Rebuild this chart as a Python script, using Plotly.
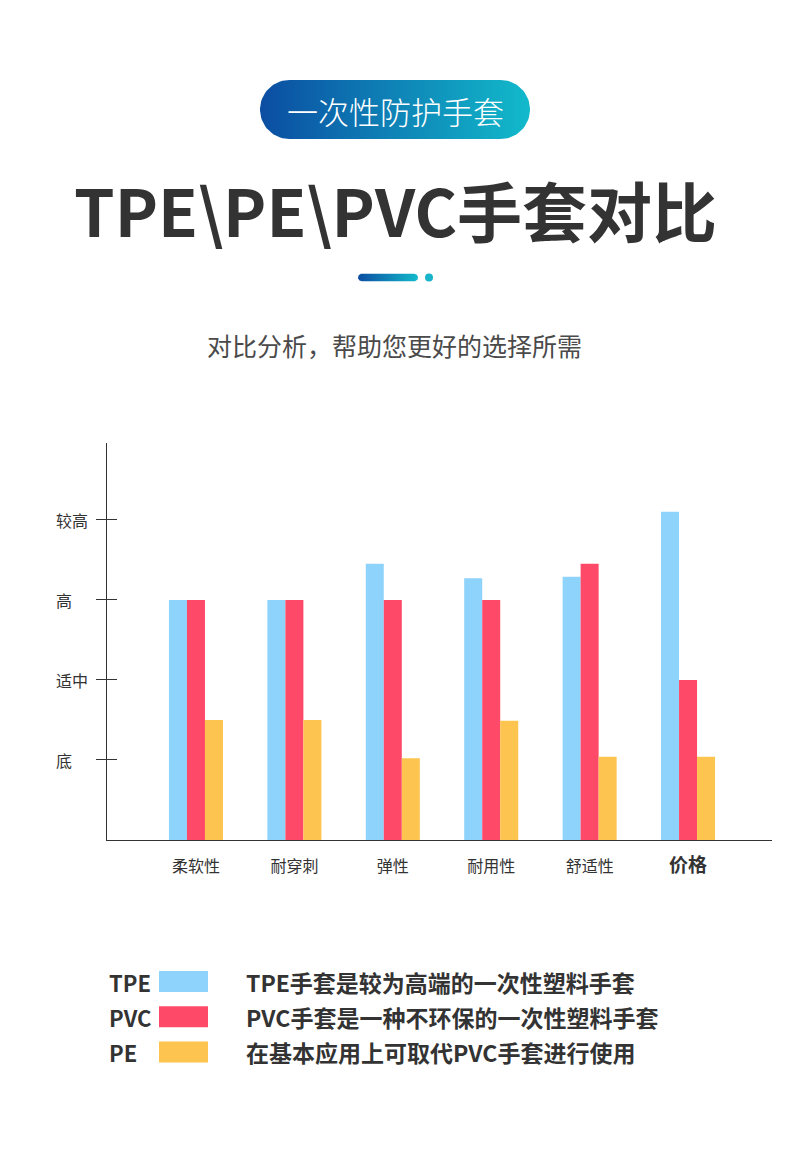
import numpy as np
import plotly.graph_objects as go

# 数据
categories = ["柔软性", "耐穿刺", "弹性", "耐用性", "舒适性", "价格"]
tpe = [3.0, 3.0, 3.45, 3.27, 3.29, 4.1]
pvc = [3.0, 3.0, 3.0, 3.0, 3.45, 2.0]
pe = [1.5, 1.5, 1.02, 1.49, 1.04, 1.04]

level_vals = [1, 2, 3, 4]
level_text = ["底", "适中", "高", "较高"]

series_names = ["TPE", "PVC", "PE"]
series_colors = ["#8ED3FB", "#FE4A68", "#FDC54F"]
series_notes = [
    "TPE手套是较为高端的一次性塑料手套",
    "PVC手套是一种不环保的一次性塑料手套",
    "在基本应用上可取代PVC手套进行使用",
]

W, H = 790, 1157
FONT = "Noto Sans CJK SC"
DARK = "#333333"


def pill(x0, x1, yc, h, n=40):
    # 圆角胶囊形状的轮廓
    r = h / 2
    t1 = np.linspace(-np.pi / 2, np.pi / 2, n)
    t2 = np.linspace(np.pi / 2, 3 * np.pi / 2, n)
    xs = np.concatenate([x1 - r + r * np.cos(t1), x0 + r + r * np.cos(t2)])
    ys = np.concatenate([yc + r * np.sin(t1), yc + r * np.sin(t2)])
    return np.append(xs, xs[0]), np.append(ys, ys[0])


fig = go.Figure()

for name, vals, col in zip(series_names, [tpe, pvc, pe], series_colors):
    fig.add_trace(go.Bar(x=list(range(len(categories))), y=vals, name=name,
                         marker=dict(color=col, line=dict(width=0)),
                         showlegend=False, hoverinfo="skip"))

# 辅助轴：刻度朝内那一半
fig.add_trace(go.Scatter(x=[None], y=[None], yaxis="y2", showlegend=False, hoverinfo="skip"))

# 顶部装饰
grad = dict(type="horizontal", colorscale=[[0, "#0B4DA2"], [1, "#12BACB"]])
px, py = pill(260, 530, 109.5, 59)
fig.add_trace(go.Scatter(x=px, y=py, xaxis="x3", yaxis="y3", mode="lines",
                         line=dict(width=0), fill="toself", fillgradient=grad,
                         showlegend=False, hoverinfo="skip"))
lx, ly = pill(358, 418, 277.5, 7.5)
fig.add_trace(go.Scatter(x=lx, y=ly, xaxis="x3", yaxis="y3", mode="lines",
                         line=dict(width=0), fill="toself", fillgradient=grad,
                         showlegend=False, hoverinfo="skip"))
fig.add_trace(go.Scatter(x=[429], y=[277.5], xaxis="x3", yaxis="y3", mode="markers",
                         marker=dict(size=8, color="#17B4CA"),
                         showlegend=False, hoverinfo="skip"))

ann = []
ann.append(dict(x=395, y=110, text="一次性防护手套", xref="x3", yref="y3",
                showarrow=False, font=dict(family=FONT, size=31, color="white", weight=300)))
ann.append(dict(x=395, y=209, text="TPE\\PE\\PVC手套对比", xref="x3", yref="y3",
                showarrow=False, font=dict(family=FONT, size=65, color=DARK, weight=700)))
ann.append(dict(x=394, y=345, text="对比分析，帮助您更好的选择所需", xref="x3", yref="y3",
                showarrow=False, font=dict(family=FONT, size=25, color="#4A4A4A")))

# y轴标签左对齐
for v, t in zip(level_vals, level_text):
    ann.append(dict(x=54 / W, y=v, text=t, xref="paper", yref="y", xanchor="left",
                    showarrow=False, font=dict(family=FONT, size=16, color=DARK)))

# 自定义图例
shapes = []
for i, (name, col, note) in enumerate(zip(series_names, series_colors, series_notes)):
    yc = 981.5 + i * 35.3
    ann.append(dict(x=107, y=yc, text=name, xref="x3", yref="y3", xanchor="left",
                    showarrow=False, font=dict(family=FONT, size=22, color=DARK, weight=700)))
    ann.append(dict(x=244, y=yc, text=note, xref="x3", yref="y3", xanchor="left",
                    showarrow=False, font=dict(family=FONT, size=23, color=DARK, weight=700)))
    shapes.append(dict(type="rect", xref="x3", yref="y3", x0=159, x1=208,
                       y0=yc - 10.5, y1=yc + 10.5, fillcolor=col, line=dict(width=0)))

ticktext = categories[:-1] + ["<b><span style='font-size:19px'>" + categories[-1] + "</span></b>"]

fig.update_layout(
    width=W, height=H,
    margin=dict(l=0, r=0, t=0, b=0),
    paper_bgcolor="white", plot_bgcolor="rgba(0,0,0,0)",
    barmode="group", bargap=0.451, bargroupgap=0,
    annotations=ann, shapes=shapes,
    xaxis=dict(domain=[107 / W, 771.7 / W], range=[-0.904, 5.85],
               tickvals=list(range(len(categories))), ticktext=ticktext,
               ticks="", ticklabelstandoff=12,
               tickfont=dict(family=FONT, size=16, color=DARK),
               showline=True, linecolor=DARK, linewidth=1,
               showgrid=False, zeroline=False, fixedrange=True),
    yaxis=dict(domain=[(H - 840) / H, (H - 443) / H], range=[0, 4.96],
               tickvals=level_vals, showticklabels=False,
               ticks="outside", ticklen=10, tickcolor=DARK, tickwidth=1,
               showline=True, linecolor=DARK, linewidth=1,
               showgrid=False, zeroline=False, fixedrange=True),
    yaxis2=dict(overlaying="y", side="left", anchor="x", range=[0, 4.96],
                tickvals=level_vals, ticks="inside", ticklen=10, tickcolor=DARK,
                tickwidth=1, showticklabels=False, showline=False,
                showgrid=False, zeroline=False, fixedrange=True),
    xaxis3=dict(domain=[0, 1], range=[0, W], visible=False, fixedrange=True, anchor="y3"),
    yaxis3=dict(domain=[0, 1], range=[H, 0], visible=False, fixedrange=True, anchor="x3"),
)

fig.write_html("out.html", config={"displayModeBar": False},
               post_script="document.body.style.margin='0';")
